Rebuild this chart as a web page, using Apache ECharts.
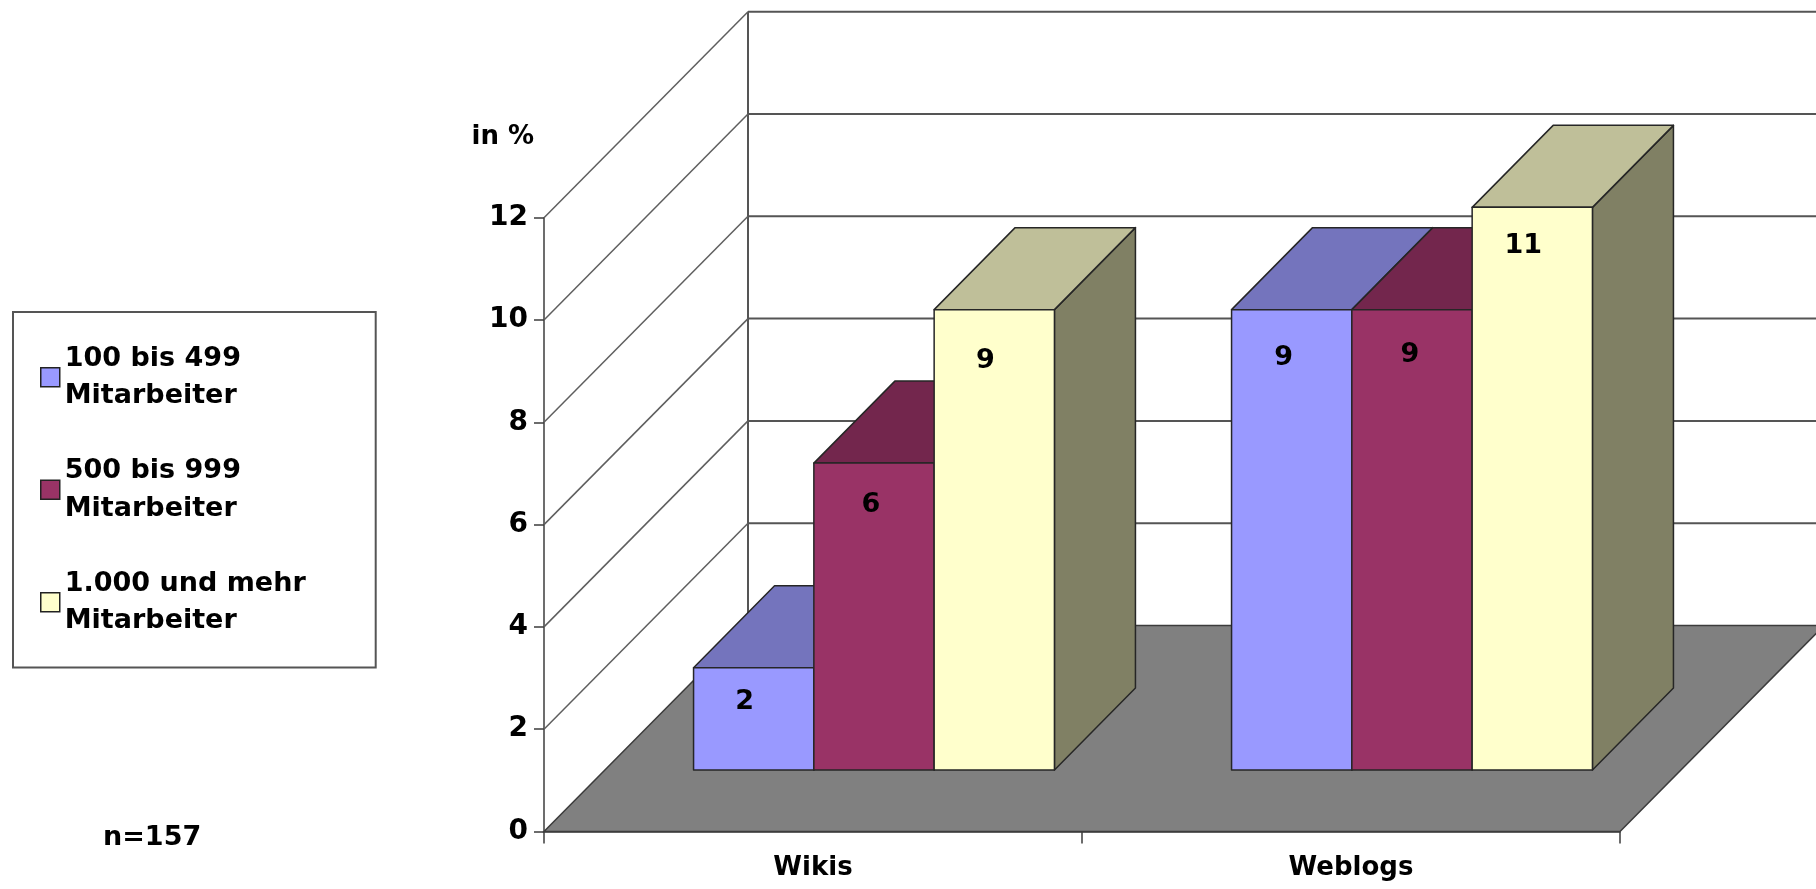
<!DOCTYPE html>
<html>
<head>
<meta charset="utf-8">
<title>Wikis und Weblogs nach Unternehmensgröße</title>
<style>
  html, body { margin: 0; padding: 0; background: #fff; overflow: hidden; }
  #chart { width: 1816px; height: 889px; }
</style>
<script src="https://cdn.jsdelivr.net/npm/echarts@6/dist/echarts.min.js"></script>
</head>
<body>
<div id="chart"></div>
<script>
// Chart values
const categories = ['Wikis', 'Weblogs'];
const seriesNames = ['100 bis 499\nMitarbeiter', '500 bis 999\nMitarbeiter', '1.000 und mehr\nMitarbeiter'];
const small = [2, 9];
const medium = [6, 9];
const large = [9, 11];
const wallTicks = [0, 2, 4, 6, 8, 10, 12];
const sampleNote = 'n=157';
const unitNote = 'in %';

// Face colours of each column: front, top, side
const faces = [
  { front: '#9999ff', top: '#7474bd', side: '#4d4d80' },
  { front: '#993366', top: '#73264d', side: '#4d1a33' },
  { front: '#ffffcc', top: '#bfbf99', side: '#808064' }
];

// Oblique projection of the 3D box
const FONT = '"DejaVu Sans", sans-serif';
const WALL_DX = 204, WALL_DY = 206;     // depth of the floor and side wall
const COL_SHIFT_X = 61, COL_SHIFT_Y = 61.5; // columns stand part way into the floor
const COL_DX = 81, COL_DY = 82;         // depth of a column
const COL_SHARE = 0.2236;               // column width as a share of a category band
const EDGE = '#262626';

// Nudges for the value labels, keyed by series then category: [dx, dy from column top]
const labelNudge = [
  [[-9, 34], [-8, 48]],
  [[-3, 42], [-2, 45]],
  [[-9, 51], [-9, 39]]
];

function renderWalls(params, api) {
  const v = api.value(0);
  const box = params.coordSys;
  const y = api.coord([0, v])[1];
  const left = box.x, right = box.x + box.width;
  const children = [];
  const line = { stroke: '#5e5e5e', lineWidth: 1.5 };
  if (v === 0) {
    children.push({
      type: 'polygon',
      shape: { points: [[left, y], [right, y], [right + WALL_DX, y - WALL_DY], [left + WALL_DX, y - WALL_DY]] },
      style: { fill: '#808080', stroke: '#3c3c3c', lineWidth: 1.5 }
    });
    children.push({
      type: 'line',
      shape: { x1: left + WALL_DX, y1: y - WALL_DY, x2: left + WALL_DX, y2: box.y - WALL_DY },
      style: { stroke: '#555', lineWidth: 2 }
    });
  } else {
    children.push({
      type: 'line',
      shape: { x1: left, y1: y, x2: left + WALL_DX, y2: y - WALL_DY },
      style: line
    });
    children.push({
      type: 'line',
      shape: { x1: left + WALL_DX, y1: y - WALL_DY, x2: right + WALL_DX, y2: y - WALL_DY },
      style: { stroke: '#555', lineWidth: 2 }
    });
  }
  return { type: 'group', children };
}

function columnRenderer(seriesIndex) {
  return function (params, api) {
    const cat = api.value(0);
    const val = api.value(1);
    const band = api.size([1, 0])[0];
    const w = band * COL_SHARE;
    const center = api.coord([cat, 0])[0] + COL_SHIFT_X;
    const x0 = center + (seriesIndex - 1.5) * w;
    const x1 = x0 + w;
    const base = api.coord([cat, 0])[1] - COL_SHIFT_Y;
    const top = api.coord([cat, val])[1] - COL_SHIFT_Y;
    const f = faces[seriesIndex];
    const edge = { stroke: EDGE, lineWidth: 1.5, lineJoin: 'round' };
    const nudge = labelNudge[seriesIndex][cat];
    return {
      type: 'group',
      children: [
        {
          type: 'polygon',
          shape: { points: [[x1, top], [x1 + COL_DX, top - COL_DY], [x1 + COL_DX, base - COL_DY], [x1, base]] },
          style: Object.assign({ fill: f.side }, edge)
        },
        {
          type: 'polygon',
          shape: { points: [[x0, top], [x1, top], [x1 + COL_DX, top - COL_DY], [x0 + COL_DX, top - COL_DY]] },
          style: Object.assign({ fill: f.top }, edge)
        },
        {
          type: 'rect',
          shape: { x: x0, y: top, width: w, height: base - top },
          style: Object.assign({ fill: f.front }, edge)
        },
        {
          type: 'text',
          style: {
            text: String(val),
            x: (x0 + x1) / 2 + nudge[0],
            y: top + nudge[1],
            align: 'center',
            verticalAlign: 'middle',
            fill: '#000',
            font: 'bold 27px ' + FONT
          }
        }
      ]
    };
  };
}

const columnData = [small, medium, large];

const option = {
  animation: false,
  backgroundColor: '#fff',
  textStyle: { fontFamily: FONT },
  grid: { left: 544, right: 196, top: 217.7, bottom: 57.5, containLabel: false },
  legend: {
    orient: 'vertical',
    left: 13,
    top: 312,
    align: 'left',
    selectedMode: false,
    data: seriesNames,
    icon: 'rect',
    itemWidth: 19,
    itemHeight: 19,
    itemGap: 0,
    padding: [9, 70, 9, 27],
    borderColor: '#555',
    borderWidth: 2,
    backgroundColor: '#fff',
    itemStyle: { borderColor: '#222', borderWidth: 1.5 },
    textStyle: {
      fontFamily: FONT,
      fontWeight: 'bold',
      fontSize: 27,
      color: '#000',
      lineHeight: 37.5,
      padding: [37.5, 0, 0, 0]
    }
  },
  xAxis: {
    type: 'category',
    data: categories,
    boundaryGap: true,
    axisLine: { show: true, lineStyle: { color: '#3c3c3c', width: 1.5 } },
    axisTick: { show: true, length: 12, lineStyle: { color: '#3c3c3c', width: 1.5 } },
    axisLabel: { color: '#000', fontFamily: FONT, fontWeight: 'bold', fontSize: 26, margin: 24 }
  },
  yAxis: {
    type: 'value',
    min: 0,
    max: 12,
    interval: 2,
    name: unitNote,
    nameLocation: 'end',
    nameGap: 67,
    nameTextStyle: { color: '#000', fontFamily: FONT, fontWeight: 'bold', fontSize: 26, align: 'right', padding: [0, 10, 0, 0] },
    splitLine: { show: false },
    axisLine: { show: true, lineStyle: { color: '#3c3c3c', width: 1.5 } },
    axisTick: { show: true, length: 10, lineStyle: { color: '#3c3c3c', width: 1.5 } },
    axisLabel: { color: '#000', fontFamily: FONT, fontWeight: 'bold', fontSize: 28, margin: 16 }
  },
  graphic: [
    {
      type: 'text',
      left: 103,
      top: 824,
      style: { text: sampleNote, fill: '#000', font: 'bold 27px ' + FONT }
    }
  ],
  series: [
    {
      type: 'custom',
      silent: true,
      z: 1,
      data: wallTicks.map(v => [v]),
      encode: { y: 0 },
      renderItem: renderWalls
    }
  ].concat(seriesNames.map((name, s) => ({
    type: 'custom',
    name,
    z: 3 + s,
    itemStyle: { color: faces[s].front },
    data: categories.map((c, i) => [i, columnData[s][i]]),
    encode: { x: 0, y: 1 },
    renderItem: columnRenderer(s)
  })))
};

const chart = echarts.init(document.getElementById('chart'), null, { renderer: 'canvas', width: 1816, height: 889 });
chart.setOption(option);
</script>
</body>
</html>
